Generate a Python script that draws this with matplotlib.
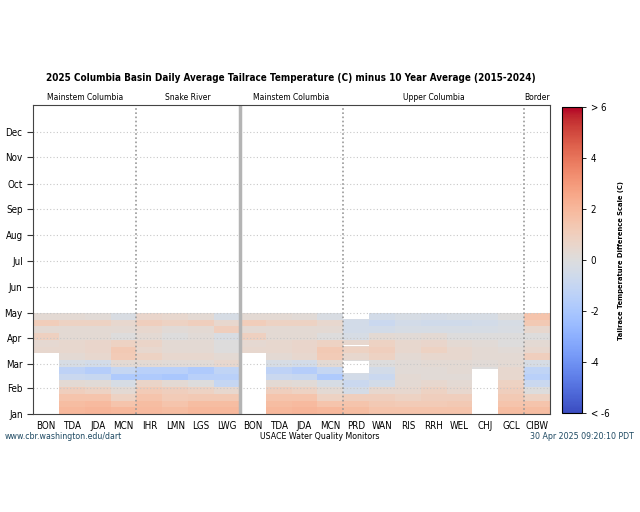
import numpy as np
import matplotlib
matplotlib.use("Agg")
import matplotlib.pyplot as plt

plt.rcParams["font.family"] = ["DejaVu Sans"]
plt.rcParams["font.stretch"] = "condensed"

# stations, left to right
stations = ["BON", "TDA", "JDA", "MCN", "IHR", "LMN", "LGS", "LWG",
            "BON", "TDA", "JDA", "MCN", "PRD", "WAN", "RIS", "RRH",
            "WEL", "CHJ", "GCL", "CIBW"]
groups = ["Mainstem Columbia", "Snake River", "Mainstem Columbia", "Upper Columbia", "Border"]
group_edges = [0, 4, 8, 12, 19, 20]
months = ["Jan", "Feb", "Mar", "Apr", "May", "Jun", "Jul", "Aug", "Sep", "Oct", "Nov", "Dec"]
month_start = [1, 32, 60, 91, 121, 152, 182, 213, 244, 274, 305, 335]

# temperature difference (C), 8-day blocks from Jan 1 to Apr 30 (15 blocks)
BLOCK = 8
bon = [0, 0, 0, 0, 0, 0, 0, 0, 0, 0.5, 0.4, 0.9, 0.3, 1.1, 0.3]
tda = [2.0, 1.8, 1.5, 1.0, 0.3, -0.8, -1.3, -0.3, 0.3, 0.5, 0.5, 0.3, 0.3, 0.8, 0.3]
jda = [2.1, 1.9, 1.5, 0.8, 0.2, -0.9, -1.6, -0.5, 0.5, 0.6, 0.6, 0.3, 0.3, 0.8, 0.2]
mcn = [2.0, 1.5, 0.8, 0.3, -0.3, -1.8, -1.0, 0.3, 1.2, 1.3, 0.8, 0.0, 0.3, 0.5, -0.2]
ihr = [1.9, 1.8, 1.5, 1.2, 0.7, -1.8, -1.5, 0.3, 0.8, 0.5, 0.7, 0.3, 0.5, 1.0, 0.6]
lmn = [1.8, 1.5, 1.2, 1.0, 0.3, -2.0, -1.5, 0.2, 0.5, 0.3, 0.3, 0.0, 0.2, 0.8, 0.5]
lgs = [2.0, 1.8, 1.3, 0.8, 0.0, -1.5, -1.8, 0.2, 0.5, 0.3, 0.3, 0.2, 0.3, 1.0, 0.3]
lwg = [2.0, 1.8, 1.3, 0.5, -1.0, -1.5, -1.2, 0.5, 0.3, 0.0, 0.0, -0.2, 1.0, 0.5, -0.3]
prd = [1.8, 1.5, 1.0, -0.4, -0.8, -0.5, -0.3, 0.0, 0.5, 0.8, 0.5, -0.3, -0.5, -0.5, -0.4]
wan = [1.5, 1.3, 1.0, 0.5, -0.5, -0.8, -0.5, 0.0, 0.8, 1.0, 0.8, 0.3, -0.5, -0.8, -0.5]
ris = [1.5, 1.2, 0.8, 0.5, 0.3, 0.3, 0.2, 0.2, 0.3, 0.5, 0.5, 0.2, -0.3, -0.5, -0.3]
rrh = [1.5, 1.2, 1.0, 0.8, 0.5, 0.2, 0.2, 0.3, 0.5, 0.8, 0.6, 0.3, -0.3, -0.6, -0.4]
wel = [1.5, 1.3, 1.0, 0.5, 0.3, 0.2, 0.3, 0.3, 0.5, 0.5, 0.3, 0.0, -0.3, -0.6, -0.3]
chj = [0, 0, 0, 0, 0, 0, 0.0, 0.2, 0.3, 0.3, 0.2, 0.0, -0.3, -0.5, -0.3]
gcl = [1.8, 1.5, 1.3, 1.0, 0.8, 0.5, 0.5, 0.3, 0.3, 0.2, 0.0, 0.0, -0.2, -0.3, 0.0]
cibw = [1.8, 1.5, 0.8, 0.0, -0.8, -1.5, -1.2, -0.3, 1.0, 0.5, 0.3, 0.0, 0.5, 1.3, 1.5]

# missing days (day of year, inclusive)
gaps = {0: [(1, 72)], 8: [(1, 72)],
        12: [(28, 28), (50, 63), (82, 82), (114, 120)],
        13: [(28, 28)],
        17: [(1, 53)]}

cols = [bon, tda, jda, mcn, ihr, lmn, lgs, lwg,
        bon, tda, jda, mcn, prd, wan, ris, rrh, wel, chj, gcl, cibw]
ndays = len(bon) * BLOCK
Z = np.column_stack([np.repeat(np.array(c, float), BLOCK) for c in cols])
for j, spans in gaps.items():
    for a, b in spans:
        Z[a - 1:b, j] = np.nan

fig = plt.figure(figsize=(6.4, 5.12), dpi=100)
ax = fig.add_axes([0.0516, 0.191, 0.8078, 0.604])
cax = fig.add_axes([0.878, 0.193, 0.031, 0.598])

xe = np.arange(len(stations) + 1)
ye = np.arange(1, ndays + 2)
mesh = ax.pcolormesh(xe, ye, Z, cmap="coolwarm", vmin=-6, vmax=6)

ax.set_xlim(0, len(stations))
ax.set_ylim(1, 367)
ax.set_xticks(np.arange(len(stations)) + 0.5)
ax.set_xticklabels(stations, fontsize=7)
ax.set_yticks(month_start)
ax.set_yticklabels(months, fontsize=7)
ax.tick_params(axis="x", length=0, pad=5)
ax.tick_params(axis="y", length=4, width=0.8, color="#333333")
for m in month_start[1:]:
    ax.axhline(m, color="#c8c8c8", ls=(0, (1, 2)), lw=0.8)
for e in [4, 12, 19]:
    ax.axvline(e, color="#999999", ls=(0, (1, 1.5)), lw=1.2)
ax.axvline(8, color="#b4b4b4", lw=2.5)
for s in ax.spines.values():
    s.set_color("#444444")
    s.set_linewidth(0.8)

for g, a, b in zip(groups, group_edges[:-1], group_edges[1:]):
    ax.text((a + b) / 2, 1.01, g, transform=ax.get_xaxis_transform(),
            ha="center", va="bottom", fontsize=6.1)

cb = fig.colorbar(mesh, cax=cax, ticks=[-6, -4, -2, 0, 2, 4, 6])
cb.ax.set_yticklabels(["< -6", "-4", "-2", "0", "2", "4", "> 6"], fontsize=7)
cb.ax.tick_params(length=3, width=0.6)
cb.outline.set_linewidth(0.8)
cb.set_label("Tailrace Temperature Difference Scale (C)", fontsize=5.4,
             fontweight="bold", labelpad=6)

fig.text(0.455, 0.847, "2025 Columbia Basin Daily Average Tailrace Temperature (C) minus 10 Year Average (2015-2024)",
         ha="center", va="center", fontsize=7.1, fontweight="bold")
fig.text(0.008, 0.148, "www.cbr.washington.edu/dart", fontsize=6.3, color="#1f4a63", va="center")
fig.text(0.5, 0.148, "USACE Water Quality Monitors", fontsize=6.3, ha="center", va="center")
fig.text(0.99, 0.148, "30 Apr 2025 09:20:10 PDT", fontsize=6.3, ha="right", va="center", color="#1f4a63")

fig.savefig("out.png", dpi=100)
